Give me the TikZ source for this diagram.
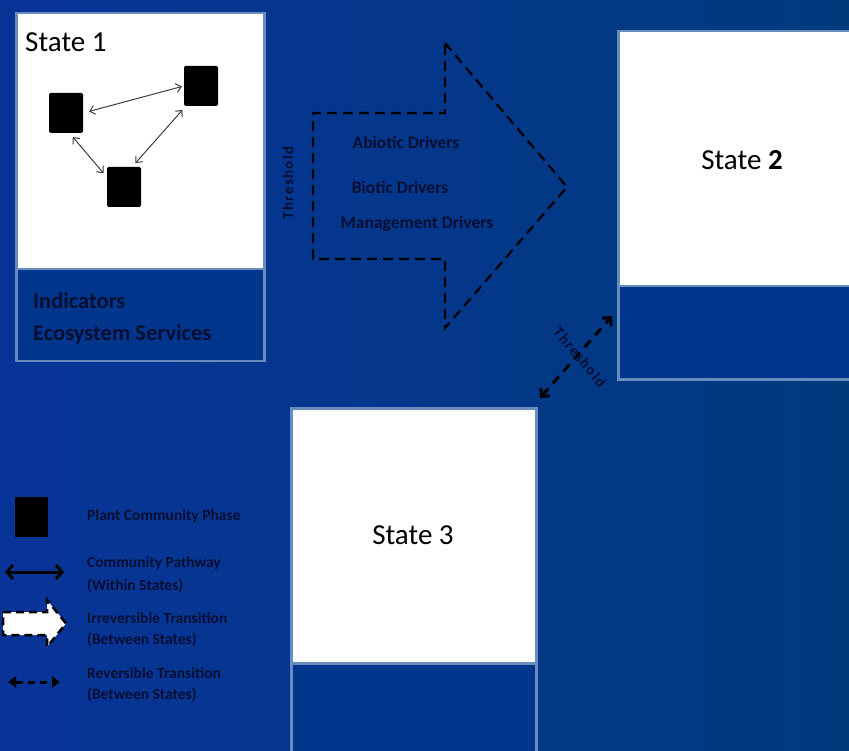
\documentclass[tikz,border=0pt]{standalone}
\usepackage{fontspec}
\setmainfont{Carlito}
\newfontfamily\spacedfont[LetterSpace=9]{Carlito}
\usetikzlibrary{arrows.meta}
\definecolor{bgA}{RGB}{8,52,152}
\definecolor{bgB}{RGB}{0,58,125}
\definecolor{edgecol}{RGB}{105,140,190}
\definecolor{panelcol}{RGB}{2,54,140}
\definecolor{ink}{RGB}{8,14,50}
\begin{document}
\begin{tikzpicture}[x=1pt,y=-1pt,
  whitebox/.style={draw=edgecol, line width=2.5pt, fill=white, anchor=north west, inner sep=0pt},
  panelbox/.style={draw=edgecol, line width=2.5pt, fill=panelcol, anchor=north west, inner sep=0pt},
  phase/.style={fill=black, rounded corners=1.5pt, minimum width=34pt, minimum height=40pt, inner sep=0pt},
  pathway/.style={draw=black!75, line width=1pt, {Straight Barb[length=5pt,width=9pt]}-{Straight Barb[length=5pt,width=9pt]}},
  statelabel/.style={font=\fontsize{29}{34}\selectfont, text=black, inner sep=0pt},
  inktext/.style={font=\bfseries\fontsize{#1}{#1}\selectfont, text=ink, inner sep=0pt},
  thresh/.style={font=\spacedfont\bfseries\fontsize{15}{15}\selectfont, text=ink, inner sep=0pt},
  bigdash/.style={draw=black, line width=2.2pt, dash pattern=on 10pt off 6pt},
  revdash/.style={draw=black, line width=3pt, dash pattern=on 9pt off 7pt},
]
\useasboundingbox (0,0) rectangle (849,751);
\shade[left color=bgA, right color=bgB] (0,0) rectangle (849,751);
\clip (0,0) rectangle (849,751);

% State 1
\node[whitebox, minimum width=248pt, minimum height=256pt] (s1) at (15,12) {};
\node[panelbox, minimum width=248pt, minimum height=92pt] (s1p) at (15,268) {};
\node[statelabel, anchor=west] (s1t) at (25,42) {State 1};
\node[inktext=22.5, anchor=west] (ind) at (33,301) {Indicators};
\node[inktext=22.5, anchor=west] (eco) at (33,334) {Ecosystem Services};

\node[phase] (pa) at (66,113) {};
\node[phase] (pb) at (201,86) {};
\node[phase] (pc) at (124,187) {};
\draw[pathway, shorten <=6pt, shorten >=2pt] (pa.0) -- (pb.180);
\draw[pathway, shorten <=5pt, shorten >=5pt] (pa.-80) -- (pc.150);
\draw[pathway, shorten <=5pt, shorten >=5pt] (pb.233) -- (pc.68);

% State 2
\node[whitebox, minimum width=260pt, minimum height=255pt] (s2) at (617,30) {};
\node[panelbox, minimum width=260pt, minimum height=93pt] (s2p) at (617,285) {};
\node[statelabel] (s2t) at (742,160) {State \textbf{2}};

% State 3
\node[whitebox, minimum width=245pt, minimum height=255pt] (s3) at (290,407) {};
\node[panelbox, minimum width=245pt, minimum height=110pt] (s3p) at (290,662) {};
\node[statelabel] (s3t) at (413,535) {State 3};

% Big dashed transition arrow
\draw[bigdash] (445,43) -- (567,187) -- (445,328) -- (445,259) -- (313,259) -- (313,113) -- (445,113) -- cycle;
\node[inktext=17.5] (abio) at (406,142) {Abiotic Drivers};
\node[inktext=17.5] (bio) at (400,187) {Biotic Drivers};
\node[inktext=17.5] (mgmt) at (417,224) {Management Drivers};
\node[thresh, rotate=90] (th1) at (288,183) {Threshold};

% Reversible threshold between State 3 and State 2
\coordinate (r3) at (540,398);
\coordinate (r2) at (612,316);
\draw[revdash, {Straight Barb[length=6pt,width=12pt]}-{Straight Barb[length=6pt,width=12pt]}] (r3) -- (r2);
\node[thresh, rotate=-50] (th2) at (580,357) {Threshold};

% Legend
\node[fill=black, minimum width=33pt, minimum height=40pt, inner sep=0pt] (lsq) at (31.5,517) {};
\node[inktext=15.5, anchor=west] (l1) at (87,516) {Plant Community Phase};

\coordinate (la1) at (5,572);
\coordinate (la2) at (64,572);
\draw[line width=3pt, {Straight Barb[length=6pt,width=14pt]}-{Straight Barb[length=6pt,width=14pt]}] (la1) -- (la2);
\node[inktext=15.5, anchor=west] (l2a) at (87,563) {Community Pathway};
\node[inktext=15.5, anchor=west] (l2b) at (87,586) {(Within States)};

\draw[fill=white, draw=black, line width=2.5pt, dash pattern=on 8pt off 5pt]
  (3,612) -- (47,612) -- (47,600) -- (66,623.5) -- (47,647) -- (47,635) -- (3,635) -- cycle;
\node[inktext=15.5, anchor=west] (l3a) at (87,618) {Irreversible Transition};
\node[inktext=15.5, anchor=west] (l3b) at (87,640) {(Between States)};

\coordinate (lr1) at (8,682);
\coordinate (lr2) at (60,682);
\draw[line width=3pt, dash pattern=on 7pt off 5pt, {Triangle[length=8pt,width=11pt]}-{Triangle[length=8pt,width=11pt]}] (lr1) -- (lr2);
\node[inktext=15.5, anchor=west] (l4a) at (87,673) {Reversible Transition};
\node[inktext=15.5, anchor=west] (l4b) at (87,695) {(Between States)};
\end{tikzpicture}
\end{document}
